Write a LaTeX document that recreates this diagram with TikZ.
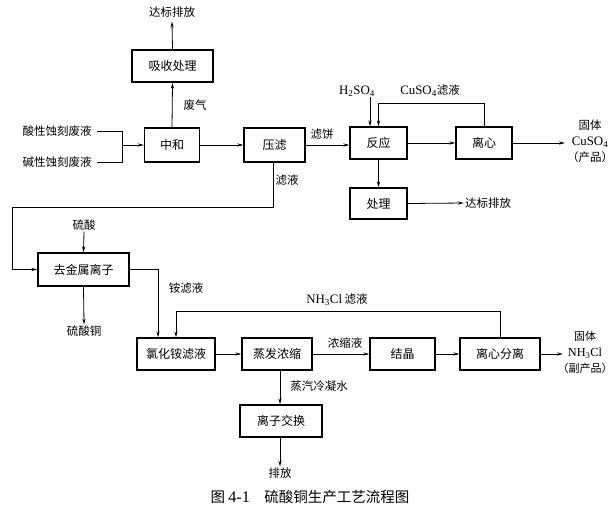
\documentclass[tikz,border=0pt]{standalone}
\usepackage{fontspec}
\setmainfont{Noto Sans CJK SC}
\newfontfamily\lat[Scale=1.12]{Liberation Serif}
\usetikzlibrary{arrows.meta}
\begin{document}
\begin{tikzpicture}[x=1pt,y=-1pt,
  box/.style={draw,line width=1.3pt,inner sep=0pt,font=\fontsize{12}{14}\selectfont},
  lbl/.style={inner sep=1pt,font=\fontsize{11.5}{16}\selectfont,align=center},
  ln/.style={line width=0.8pt},
  arr/.style={line width=0.8pt,-{Stealth[length=6pt,width=3.2pt]}}]
\useasboundingbox (0,0) rectangle (615,512);
% boxes
\node[box,minimum width=81pt,minimum height=32pt] (xs) at (172.5,66) {吸收处理};
\node[box,minimum width=55pt,minimum height=34pt] (zh) at (172,145) {中和};
\node[box,minimum width=61pt,minimum height=34pt] (yl) at (274.5,145) {压滤};
\node[box,minimum width=57pt,minimum height=32pt] (fy) at (378.5,143) {反应};
\node[box,minimum width=56pt,minimum height=32pt] (lx) at (484,143) {离心};
\node[box,minimum width=57pt,minimum height=31pt] (cl) at (378.5,203.5) {处理};
\node[box,minimum width=91pt,minimum height=33pt] (qj) at (83.5,269.5) {去金属离子};
\node[box,minimum width=78pt,minimum height=32pt] (lh) at (176,354) {氯化铵滤液};
\node[box,minimum width=70pt,minimum height=32pt] (zf) at (277,354) {蒸发浓缩};
\node[box,minimum width=65pt,minimum height=32pt] (jj) at (402.5,354) {结晶};
\node[box,minimum width=80pt,minimum height=32pt] (lf) at (500,354) {离心分离};
\node[box,minimum width=82pt,minimum height=32pt] (lz) at (281,421) {离子交换};
% free labels
\node[lbl] (t1) at (57,131) {酸性蚀刻废液};
\node[lbl] (t2) at (57,162) {碱性蚀刻废液};
\node[lbl] (db1) at (172,12) {达标排放};
\node[lbl] (fq) at (195,105) {废气};
\node[lbl] (lb) at (322,134) {滤饼};
\node[lbl] (h2) at (357,91) {\lat H\textsubscript{2}SO\textsubscript{4}};
\node[lbl] (cu) at (430,91) {{\lat CuSO\textsubscript{4}}滤液};
\node[lbl] (gt1) at (590,141) {固体\\{\lat CuSO\textsubscript{4}}\\（产品）};
\node[lbl] (db2) at (488,203) {达标排放};
\node[lbl] (ly) at (287,180) {滤液};
\node[lbl] (ls) at (84,225) {硫酸};
\node[lbl] (lst) at (84,331) {硫酸铜};
\node[lbl] (al) at (186,288) {铵滤液};
\node[lbl] (nh) at (337,300) {{\lat NH\textsubscript{3}Cl} 滤液};
\node[lbl] (ns) at (345,343) {浓缩液};
\node[lbl,font=\fontsize{11}{16}\selectfont] (gt2) at (585,352) {固体\\{\lat NH\textsubscript{3}Cl}\\（副产品）};
\node[lbl] (zq) at (319,386) {蒸汽冷凝水};
\node[lbl] (pf) at (280,473) {排放};
\node[inner sep=0pt,font=\fontsize{14.5}{16}\selectfont] (cap) at (310,497) {图 {\lat 4-1}\quad 硫酸铜生产工艺流程图};
% coordinates
\coordinate (j1) at (122,145);
\coordinate (f1) at (273,207);
\coordinate (f2) at (12,207);
\coordinate (a1) at (158,269.5);
% connectors
\draw[ln] ([xshift=4pt]t1.east) -| (j1);
\draw[ln] ([xshift=4pt]t2.east) -| (j1);
\draw[arr] (j1) -- (zh.west);
\draw[arr] (zh.north) -- (xs.south);
\draw[arr] (xs.north) -- ([yshift=-3pt]db1.south);
\draw[arr] (zh.east) -- (yl.west);
\draw[arr] (yl.east) -- (fy.west |- yl.east);
\draw[arr] ([xshift=-8.5pt]fy.north |- h2.south) -- ([xshift=-8.5pt]fy.north);
\draw[arr] (lx.north) -- ++(0,-23) -| (fy.north);
\draw[arr] (fy.east) -- (lx.west);
\draw[arr] (lx.east) -- (565,143);
\draw[arr] (fy.south) -- (cl.north);
\draw[arr] (cl.east) -- (db2.west);
\draw[ln] (yl.south -| f1) -- (f1) -- (f2) -- (f2 |- qj.west);
\draw[arr] (f2 |- qj.west) -- (qj.west);
\draw[arr] (ls.south) -- (qj.north);
\draw[arr] (qj.south) -- (lst.north);
\draw[arr] (qj.east) -- (a1) -- (a1 |- lh.north);
\draw[arr] (lf.north) -- ++(0,-26) -| (lh.north);
\draw[arr] (lh.east) -- (zf.west);
\draw[arr] (zf.east) -- (jj.west);
\draw[arr] (jj.east) -- (lf.west);
\draw[arr] (lf.east) -- (563,354);
\draw[arr] ([xshift=-1pt]lz.north |- zf.south) -- ([xshift=-1pt]lz.north);
\draw[arr] ([xshift=-1pt]lz.south) -- ([xshift=-1pt]lz.south |- pf.north);
\end{tikzpicture}
\end{document}
